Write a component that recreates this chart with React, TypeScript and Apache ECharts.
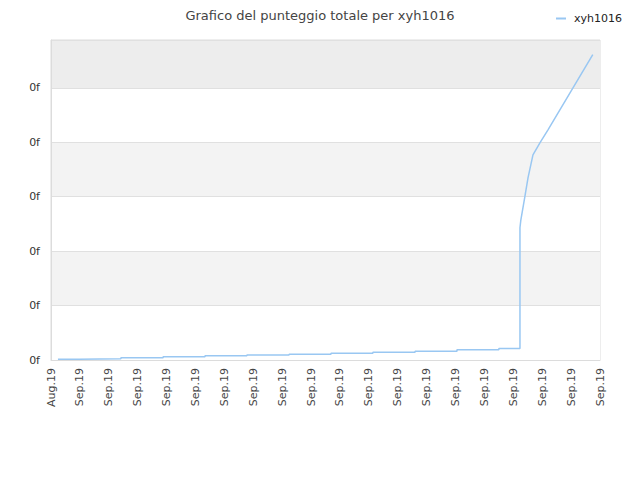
import React, { useEffect, useRef } from 'react';
import * as echarts from 'echarts';

// x positions are in tick units (0 = Aug.19, 1..19 = Sep.19)
const tickLabels = ['Aug.19', 'Sep.19', 'Sep.19', 'Sep.19', 'Sep.19', 'Sep.19', 'Sep.19', 'Sep.19', 'Sep.19', 'Sep.19',
    'Sep.19', 'Sep.19', 'Sep.19', 'Sep.19', 'Sep.19', 'Sep.19', 'Sep.19', 'Sep.19', 'Sep.19', 'Sep.19'];

// slow stair-like part
const stepX = [0.24, 0.97, 2.42, 3.88, 5.33, 6.78, 8.24, 9.69, 11.14, 12.6, 14.05, 15.5, 16.23];
const stepY = [0.013, 0.024, 0.042, 0.061, 0.077, 0.092, 0.105, 0.123, 0.142, 0.16, 0.19, 0.21];

// steep rise at the end
const rampX = [16.23, 16.26, 16.4, 16.51, 16.68, 16.92, 17.2, 18.75];
const rampY = [2.43, 2.57, 3.0, 3.35, 3.77, 3.99, 4.23, 5.61];

const seriesName = 'xyh1016';
const titleText = 'Grafico del punteggio totale per xyh1016';

const buildData = () => {
    const pts: number[][] = [];
    stepY.forEach((y, i) => {
        pts.push([stepX[i], y]);
        pts.push([stepX[i + 1], y]);
    });
    rampX.forEach((x, i) => pts.push([x, rampY[i]]));
    return pts;
};

const App: React.FC = () => {
    const chartRef = useRef<HTMLDivElement>(null);

    useEffect(() => {
        if (!chartRef.current) return;
        const chart = echarts.init(chartRef.current, null, { renderer: 'svg' });
        chart.setOption({
            animation: false,
            textStyle: { fontFamily: 'DejaVu Sans' },
            title: {
                text: titleText,
                left: 'center',
                top: 4,
                textStyle: { fontSize: 13, fontWeight: 'normal', color: '#444', fontFamily: 'DejaVu Sans' }
            },
            legend: {
                right: 13,
                top: 8,
                icon: 'rect',
                itemWidth: 10,
                itemHeight: 2,
                textStyle: { fontSize: 11, color: '#222', padding: [0, 0, 0, 3] },
                data: [seriesName]
            },
            grid: {
                left: 51,
                right: 40,
                top: 40,
                bottom: 120,
                show: true,
                borderColor: '#dcdcdc',
                borderWidth: 1
            },
            xAxis: {
                type: 'value',
                min: 0,
                max: 19,
                interval: 1,
                axisLine: { show: true, lineStyle: { color: '#dcdcdc' } },
                axisTick: { show: false },
                splitLine: { show: false },
                axisLabel: {
                    rotate: 90,
                    fontSize: 11,
                    color: '#444',
                    margin: 8,
                    formatter: (v: number) => tickLabels[Math.round(v)] ?? ''
                }
            },
            yAxis: {
                type: 'value',
                min: 0,
                max: 5.88,
                interval: 1,
                axisLine: { show: true, lineStyle: { color: '#dcdcdc' } },
                axisTick: { show: false },
                splitLine: { show: true, lineStyle: { color: '#e0e0e0' } },
                splitArea: {
                    show: true,
                    areaStyle: { color: ['#ffffff', '#f3f3f3', '#ffffff', '#f3f3f3', '#ffffff', '#ededed'] }
                },
                axisLabel: {
                    fontSize: 11,
                    color: '#333',
                    margin: 11,
                    showMaxLabel: false,
                    formatter: () => '0f'
                }
            },
            series: [
                {
                    name: seriesName,
                    type: 'line',
                    data: buildData(),
                    showSymbol: false,
                    symbol: 'none',
                    lineStyle: { color: '#99c7f2', width: 1.5 },
                    itemStyle: { color: '#99c7f2' }
                }
            ]
        });
        return () => chart.dispose();
    }, []);

    return (
        <div
            ref={chartRef}
            style={{ position: 'fixed', left: 0, top: 0, width: 640, height: 480, background: '#fff' }}
        />
    );
};

export default App;
